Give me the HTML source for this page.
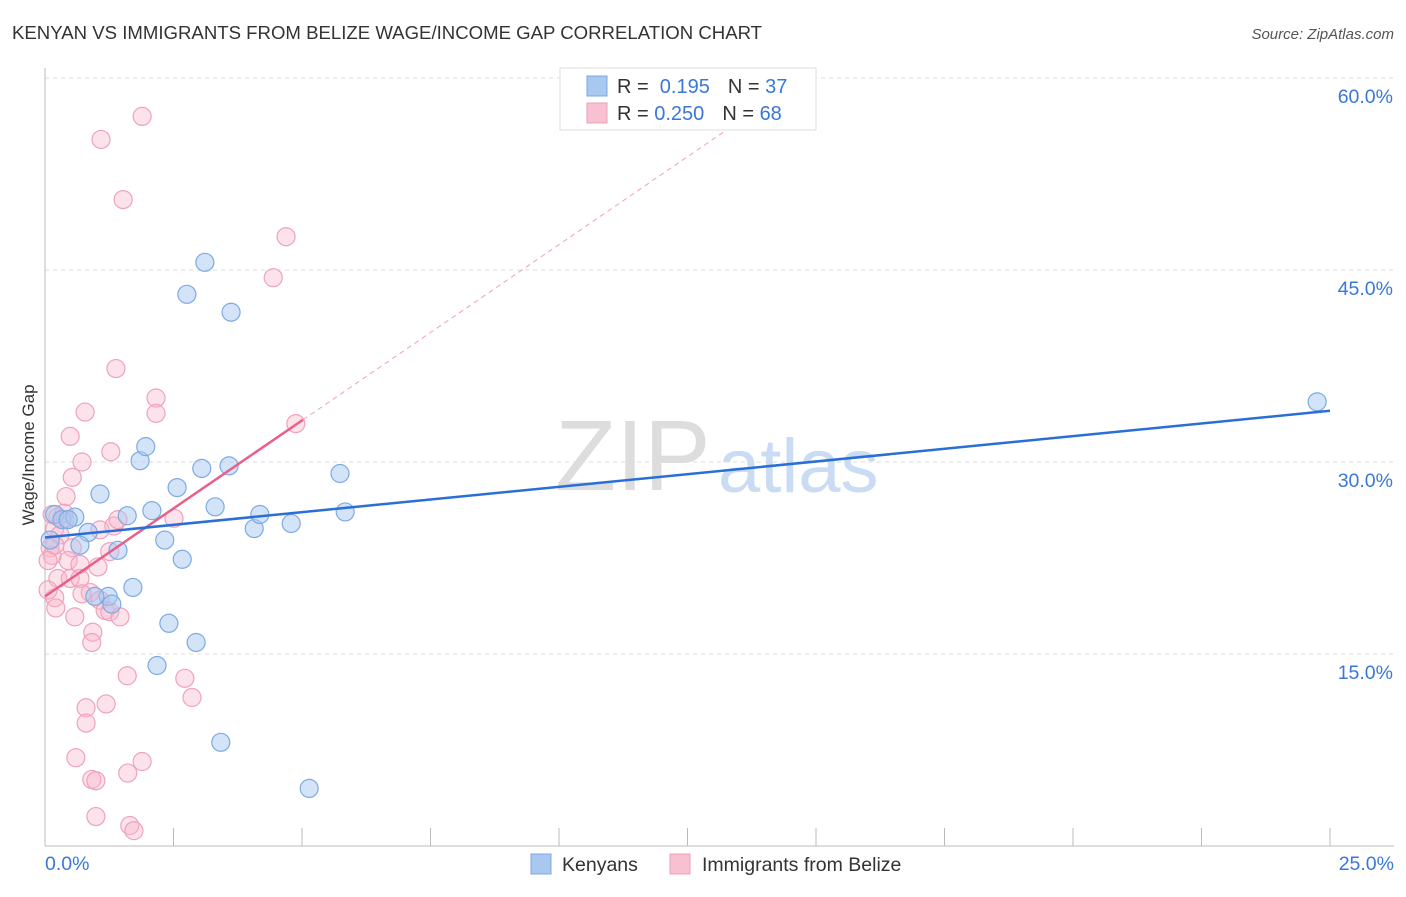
<!DOCTYPE html>
<html><head><meta charset="utf-8"><style>
body{margin:0;background:#fff;font-family:"Liberation Sans",sans-serif;}
svg text{font-family:"Liberation Sans",sans-serif;}
</style></head><body>
<svg width="1406" height="892" xmlns="http://www.w3.org/2000/svg">
<text x="12" y="39" font-size="18.6" fill="#333">KENYAN VS IMMIGRANTS FROM BELIZE WAGE/INCOME GAP CORRELATION CHART</text>
<text x="1394" y="39" font-size="15" fill="#555" font-style="italic" text-anchor="end">Source: ZipAtlas.com</text>
<g id="grid"></g>
<g>
<text x="555" y="490" font-size="100" fill="#ddd" font-family="Liberation Serif,serif">ZIP</text>
<text x="718" y="492" font-size="76" fill="#c9dcf3">atlas</text>
</g>
<g id="pts"></g>
<g id="lines"></g>
<text transform="translate(34,455) rotate(-90)" font-size="17" fill="#333" text-anchor="middle">Wage/Income Gap</text>
<text x="45" y="870" font-size="19.5" fill="#3a78d8">0.0%</text>
<text x="1394" y="870" font-size="19.5" fill="#3a78d8" text-anchor="end">25.0%</text>
<g>
<rect x="560" y="68" width="256" height="62" fill="#fff" stroke="#ddd"/>
<rect x="587" y="76" width="20" height="20" fill="#a8c8f0" stroke="#7aa8e0"/>
<rect x="587" y="103" width="20" height="20" fill="#f8c0d0" stroke="#eea0b8"/>
<text x="617" y="93" font-size="20" fill="#333">R = <tspan fill="#3a78d8">&#160;0.195</tspan><tspan dx="18">N = </tspan><tspan fill="#3a78d8">37</tspan></text>
<text x="617" y="120" font-size="20" fill="#333">R = <tspan fill="#3a78d8">0.250</tspan><tspan dx="18">N = </tspan><tspan fill="#3a78d8">68</tspan></text>
</g>
<g>
<rect x="531" y="854" width="20" height="20" fill="#a8c8f0" stroke="#7aa8e0"/>
<text x="562" y="871" font-size="19.5" fill="#333">Kenyans</text>
<rect x="670" y="854" width="20" height="20" fill="#f8c0d0" stroke="#eea0b8"/>
<text x="702" y="871" font-size="19.5" fill="#333">Immigrants from Belize</text>
</g>
</svg>
<script>
const yTicks=[15,30,45,60];
const xTicks=[0,2.5,5,7.5,10,12.5,15,17.5,20,22.5,25];
const blueX=[0.19,0.33,0.58,0.45,0.84,0.68,1.07,1.60,1.42,1.23,1.30,0.97,1.71,1.85,1.96,2.08,2.33,2.41,2.57,2.67,2.76,2.94,3.11,3.05,3.31,3.58,3.62,4.07,4.18,4.79,5.74,5.84,2.18,3.42,5.14,24.75,0.1];
const blueY=[25.9,25.5,25.7,25.5,24.5,23.5,27.5,25.8,23.1,19.5,18.9,19.5,20.2,30.1,31.2,26.2,23.9,17.4,28.0,22.4,43.1,15.9,45.6,29.5,26.5,29.7,41.7,24.8,25.9,25.2,29.1,26.1,14.1,8.1,4.5,34.7,23.9];
const pinkX=[1.89,1.09,1.52,4.69,4.44,1.38,2.16,2.16,0.78,0.49,4.88,0.72,1.28,0.53,0.41,0.25,0.39,0.19,0.29,0.10,0.14,0.53,0.45,0.68,1.03,1.07,1.34,1.42,2.51,1.26,0.25,0.49,0.68,0.88,1.07,0.19,0.72,1.17,1.26,1.46,0.58,0.21,0.93,0.91,1.60,2.72,2.86,1.19,0.80,0.80,0.60,1.89,1.61,0.91,0.99,0.99,1.65,1.73,0.06,0.06,0.19,0.14,0.37];
const pinkY=[57.0,55.2,50.5,47.6,44.4,37.3,35.0,33.8,33.9,32.0,33.0,30.0,30.8,28.8,27.3,25.7,25.5,24.8,24.3,23.3,22.7,23.3,22.3,22.0,21.8,24.7,25.0,25.5,25.6,23.0,20.9,20.9,20.9,19.8,19.2,19.4,19.7,18.4,18.3,17.9,17.9,18.6,16.7,15.9,13.3,13.1,11.6,11.1,10.8,9.6,6.9,6.6,5.7,5.2,5.1,2.3,1.6,1.2,20.0,22.3,23.5,25.9,26.0];
const blueTrend=[[0,24.1],[25,34.0]];
const pinkTrend=[[0,19.5],[5.02,33.3]];
const pinkDash=[[5.02,33.3],[13.5,56.6]];
const NS='http://www.w3.org/2000/svg';
const X=v=>45+v*51.4, Y=v=>846-v*12.8;
function mk(t,a,p){const e=document.createElementNS(NS,t);for(const k in a)e.setAttribute(k,a[k]);p.appendChild(e);return e;}
const g=document.getElementById('grid');
yTicks.forEach(t=>{
 const l=mk('line',{x1:45,x2:1394,y1:Y(t),y2:Y(t),stroke:'#ddd','stroke-dasharray':'4,4'},g);
 
 
 const tx=mk('text',{x:1393,y:Y(t)+25,'font-size':19.5,fill:'#3a78d8','text-anchor':'end'},g);
 tx.textContent=t.toFixed(1)+'%';
 
 
});
const ax=mk('line',{x1:45,x2:45,y1:68,y2:846,stroke:'#bbb'},g);


const bx=mk('line',{x1:45,x2:1394,y1:846,y2:846,stroke:'#bbb'},g);


xTicks.forEach(t=>{
 const l=mk('line',{x1:X(t),x2:X(t),y1:828,y2:846,stroke:'#bbb'},g);
 
 
});
const p=document.getElementById('pts');
pinkX.forEach((x,i)=>{
 const c=mk('circle',{cx:X(x),cy:Y(pinkY[i]),r:9,fill:'rgba(248,182,202,0.4)',stroke:'#f0a2bb','stroke-width':1.2},p);
 
 
});
blueX.forEach((x,i)=>{
 const c=mk('circle',{cx:X(x),cy:Y(blueY[i]),r:9,fill:'rgba(168,200,242,0.5)',stroke:'#7eaae4','stroke-width':1.2},p);
 
 
});
const L=document.getElementById('lines');
const d=mk('line',{x1:X(pinkDash[0][0]),y1:Y(pinkDash[0][1]),x2:X(pinkDash[1][0]),y2:Y(pinkDash[1][1]),stroke:'#f0a0b8','stroke-dasharray':'5,4','stroke-width':1},L);


const pl=mk('line',{x1:X(pinkTrend[0][0]),y1:Y(pinkTrend[0][1]),x2:X(pinkTrend[1][0]),y2:Y(pinkTrend[1][1]),stroke:'#e8608a','stroke-width':2.5},L);


const bl=mk('line',{x1:X(blueTrend[0][0]),y1:Y(blueTrend[0][1]),x2:X(blueTrend[1][0]),y2:Y(blueTrend[1][1]),stroke:'#2a6fd6','stroke-width':2.5},L);


</script>
</body></html>
